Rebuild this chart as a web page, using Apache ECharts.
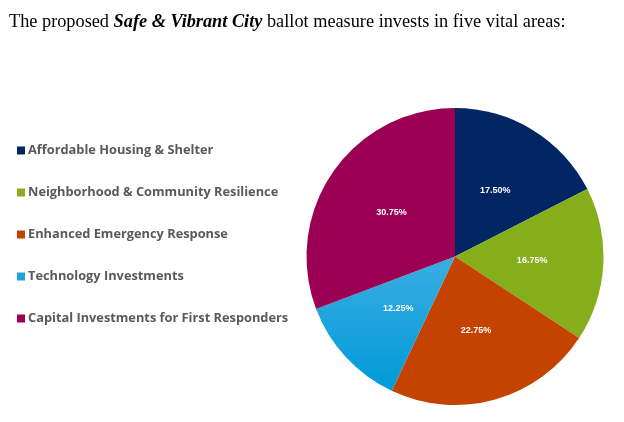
<!DOCTYPE html>
<html>
<head>
<meta charset="utf-8">
<script src="https://cdn.jsdelivr.net/npm/echarts@6/dist/echarts.min.js"></script>
<style>
  html, body { margin: 0; padding: 0; background: #fff; }
  #chart { width: 624px; height: 422px; }
</style>
</head>
<body>
<div id="chart"></div>
<script>
const categories = [
  "Affordable Housing & Shelter",
  "Neighborhood & Community Resilience",
  "Enhanced Emergency Response",
  "Technology Investments",
  "Capital Investments for First Responders"
];
const shares = [17.5, 16.75, 22.75, 12.25, 30.75];

const COLORS = [
  "#012565",
  "#86ad1a",
  "#c44300",
  new echarts.graphic.LinearGradient(0, 0, 0, 1, [
    { offset: 0, color: "#3aade2" },
    { offset: 1, color: "#009ad8" }
  ]),
  "#9c0055"
];
const LEGEND_COLORS = ["#012565", "#86ad1a", "#c44300", "#1ca4de", "#9c0055"];

const chart = echarts.init(document.getElementById("chart"));

chart.setOption({
  animation: false,
  title: {
    left: 9,
    top: 13,
    padding: 0,
    text: "{n|The proposed }{b|Safe & Vibrant City}{n| ballot measure invests in five vital areas:}",
    textStyle: {
      fontWeight: "normal",
      rich: {
        n: { fontFamily: "Liberation Serif", fontSize: 18.3, color: "#000", fontWeight: "normal" },
        b: { fontFamily: "Liberation Serif", fontSize: 18.3, color: "#000", fontWeight: "bold", fontStyle: "italic" }
      }
    }
  },
  legend: {
    orient: "vertical",
    left: 17,
    top: 144,
    padding: 0,
    itemWidth: 8,
    itemHeight: 8,
    itemGap: 29,
    icon: "rect",
    selectedMode: false,
    data: categories.map((c, i) => ({ name: c, itemStyle: { color: LEGEND_COLORS[i] } })),
    textStyle: { fontFamily: "Open Sans", fontWeight: "bold", fontSize: 12.8, color: "#595959", padding: [0, 0, 0, -2] }
  },
  series: [{
    type: "pie",
    center: [455, 256.5],
    radius: 148.5,
    startAngle: 90,
    clockwise: true,
    label: {
      show: true,
      position: "inside",
      color: "#fff",
      fontFamily: "Liberation Sans",
      fontWeight: "bold",
      fontSize: 9,
      formatter: p => p.value.toFixed(2) + "%"
    },
    labelLine: { show: false },
    emphasis: { disabled: true },
    itemStyle: { borderWidth: 0 },
    data: categories.map((c, i) => ({ name: c, value: shares[i], itemStyle: { color: COLORS[i] } }))
  }]
});
</script>
</body>
</html>
